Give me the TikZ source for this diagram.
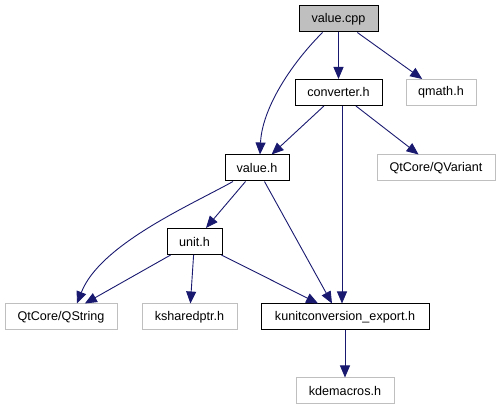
\documentclass[tikz,border=0pt]{standalone}
\usepackage{fontspec}
\setmainfont{Liberation Sans}
\usepackage{tikz}
\usetikzlibrary{arrows.meta,positioning}
\definecolor{edgeblue}{RGB}{25,25,112}
\definecolor{boxgray}{RGB}{191,191,191}

\begin{document}
\begin{tikzpicture}[x=1pt,y=-1pt,
 file/.style={rectangle,draw=black,line width=1pt,minimum height=26pt,inner xsep=5pt,font=\fontsize{12.6}{14}\selectfont},
 extern/.style={file,draw=boxgray},
 root/.style={file,fill=boxgray},
 dep/.style={-{Triangle[length=12pt,width=10pt]},edgeblue,line width=0.9pt}
]
\useasboundingbox (0,0) rectangle (501,411);
\node[root,minimum width=79pt] (valuecpp) at (338.5,19) {value.cpp};
\node[file,minimum width=87pt] (converter) at (338.5,92.5) {converter.h};
\node[extern,minimum width=70pt] (qmath) at (441,92.5) {qmath.h};
\node[file,minimum width=64pt] (valueh) at (257,168) {value.h};
\node[extern,minimum width=118pt] (qvariant) at (436,168) {QtCore/QVariant};
\node[file,minimum width=55pt] (unith) at (194.5,241.5) {unit.h};
\node[extern,minimum width=112pt] (qstring) at (61,317) {QtCore/QString};
\node[extern,minimum width=95pt] (ksharedptr) at (189.5,317) {ksharedptr.h};
\node[file,minimum width=168pt] (kexport) at (345,317) {kunitconversion\_export.h};
\node[extern,minimum width=98pt] (kdemacros) at (345,391) {kdemacros.h};
\draw[dep] ([xshift=-16pt]valuecpp.south) .. controls +(-33,33) and +(2,-45) .. ([xshift=3pt]valueh.north);
\draw[dep] (valuecpp) -- (converter);
\draw[dep] (valuecpp) -- (qmath);
\draw[dep] (converter) -- (valueh);
\draw[dep] ([xshift=3.5pt]converter.south) -- ([xshift=-3pt]kexport.north);
\draw[dep] (converter) -- (qvariant);
\draw[dep] ([xshift=-24pt]valueh.south) .. controls +(-43,24) and +(23,-59) .. ([xshift=16pt]qstring.north);
\draw[dep] (valueh) -- (unith);
\draw[dep] (valueh) -- ([xshift=-13pt]kexport.north);
\draw[dep] (unith) -- (qstring);
\draw[dep] (unith) -- (ksharedptr);
\draw[dep] (unith) -- (kexport);
\draw[dep] (kexport) -- (kdemacros);
\end{tikzpicture}
\end{document}
